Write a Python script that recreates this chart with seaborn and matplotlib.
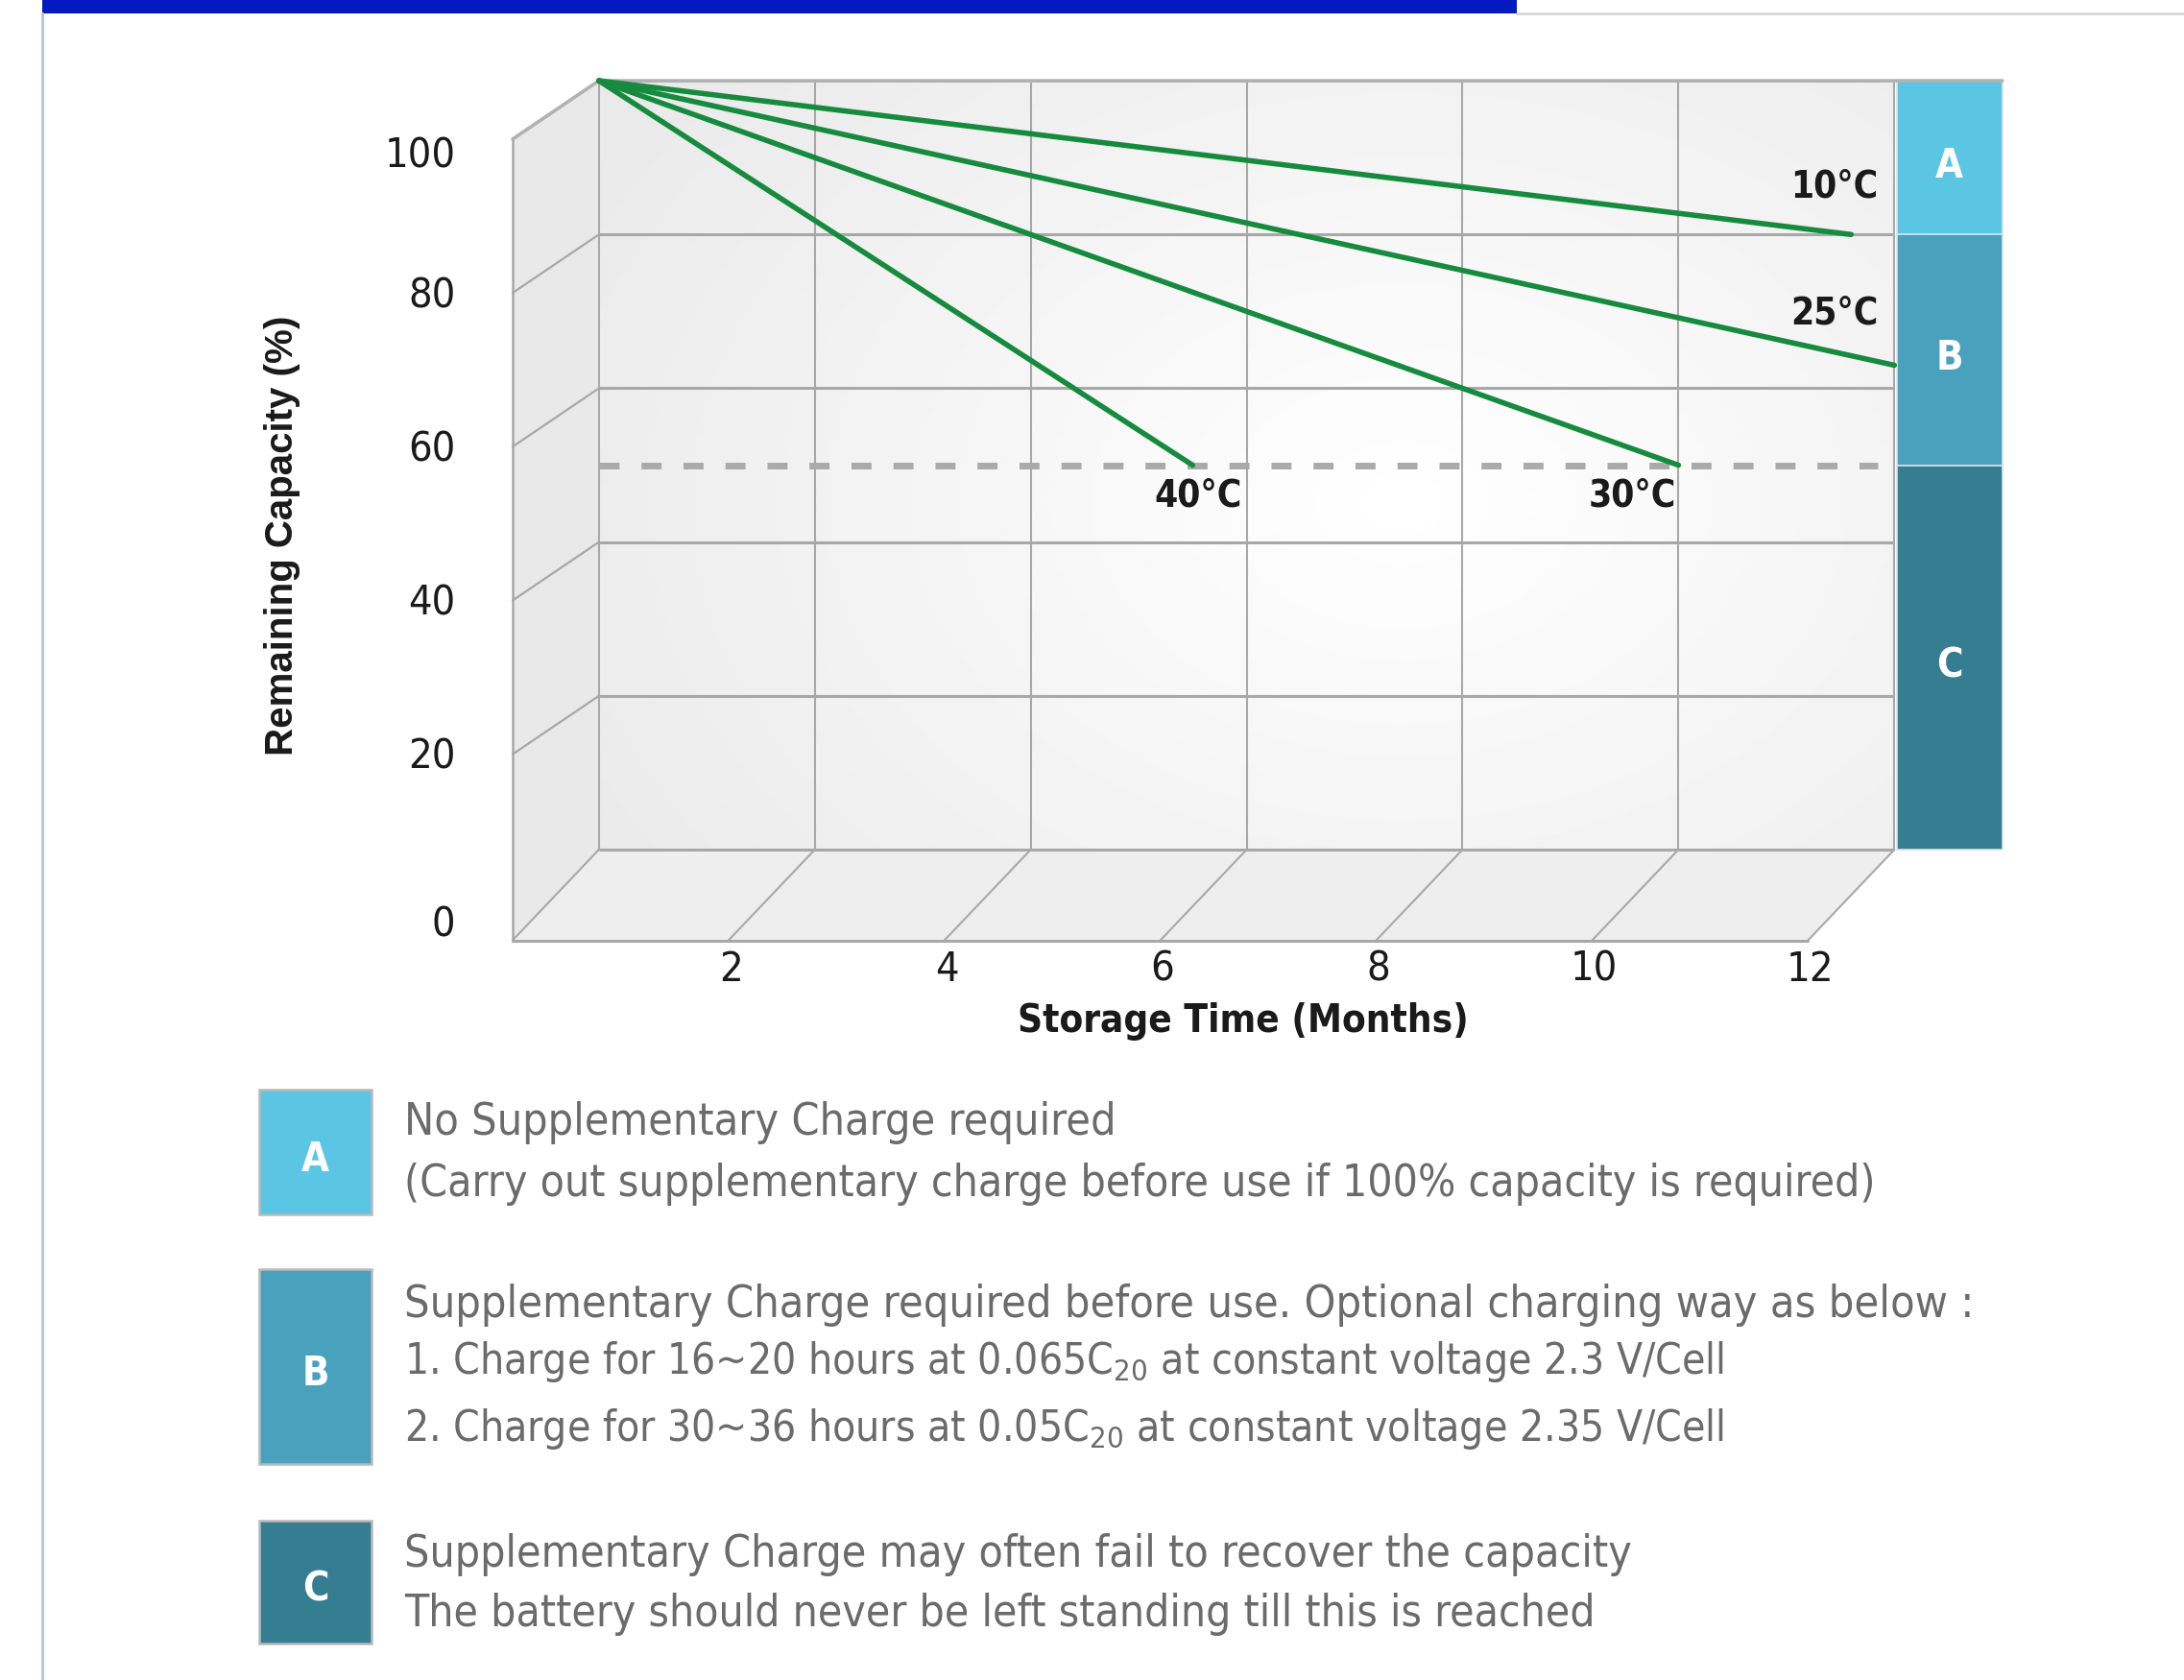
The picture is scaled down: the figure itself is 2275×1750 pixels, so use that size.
import numpy as np
import pandas as pd
import matplotlib
matplotlib.use('Agg')
import matplotlib.pyplot as plt
from matplotlib.patches import Polygon, Rectangle
import seaborn as sns

# ---- data ----
month_ticks = [0, 2, 4, 6, 8, 10, 12]
capacity_ticks = [0, 20, 40, 60, 80, 100]
temps = ['10°C', '25°C', '30°C', '40°C']
start_month = 0
start_capacity = 100
end_month = [11.6, 12.0, 10.0, 5.5]
end_capacity = [80, 63, 50, 50]
limit_capacity = 50          # dashed line
zones = ['A', 'B', 'C']
zone_top = [100, 80, 50]
zone_bottom = [80, 50, 0]
zone_colors = ['#5bc6e3', '#49a2bd', '#357e92']
zone_notes = [
    ['No Supplementary Charge required',
     '(Carry out supplementary charge before use if 100% capacity is required)'],
    ['Supplementary Charge required before use. Optional charging way as below :',
     '1. Charge for 16~20 hours at 0.065C$_{20}$ at constant voltage 2.3 V/Cell',
     '2. Charge for 30~36 hours at 0.05C$_{20}$ at constant voltage 2.35 V/Cell'],
    ['Supplementary Charge may often fail to recover the capacity',
     'The battery should never be left standing till this is reached'],
]

sns.set_theme(style='white')
plt.rcParams['font.family'] = ['DejaVu Sans']
plt.rcParams['font.stretch'] = 'condensed'
plt.rcParams['mathtext.fontset'] = 'dejavusans'
plt.rcParams['mathtext.default'] = 'regular'

GREEN = '#168b3e'
GRID = '#a8a8a8'
DX = -0.8          # depth offset of the fake 3d box, in months
DY_SIDE = -7.6     # depth offset on the side wall, in %
DY_FLOOR = -11.8   # depth offset on the floor, in %

fig = plt.figure(figsize=(22.75, 17.5), dpi=100)
fig.patch.set_facecolor('white')
renderer = fig.canvas.get_renderer()


def fit_width(t, width_px):
    # the reference uses a narrower face: scale the size so the width matches
    w = t.get_window_extent(renderer).width
    t.set_fontsize(t.get_fontsize() * width_px / w)


ax = fig.add_axes([0, 0, 1, 1])

# back wall with soft gradient
gx, gy = np.meshgrid(np.linspace(0, 1, 300), np.linspace(0, 1, 300))
d = np.clip(np.sqrt(((gx - 0.62) / 0.75) ** 2 + ((gy - 0.45) / 0.9) ** 2), 0, 1)
ax.imshow(1 - 0.085 * d, cmap='gray', vmin=0, vmax=1, extent=(0, 12, 0, 100),
          origin='lower', aspect='auto', zorder=0)

# side wall and floor
ax.add_patch(Polygon([(0, 0), (0, 100), (DX, 100 + DY_SIDE), (DX, DY_FLOOR)],
                     closed=True, fc='#e9e9e9', ec='none', zorder=0))
ax.add_patch(Polygon([(0, 0), (12, 0), (12 + DX, DY_FLOOR), (DX, DY_FLOOR)],
                     closed=True, fc='#eeeeee', ec='none', zorder=0))

# grid on back wall
for v in capacity_ticks:
    ax.plot([0, 12], [v, v], color=GRID, lw=2.2, zorder=1, solid_capstyle='butt')
    if v > 0:
        ax.plot([0, DX], [v, v + DY_SIDE], color=GRID, lw=1.6, zorder=1)
for m in month_ticks:
    ax.plot([m, m], [0, 100], color=GRID, lw=1.5, zorder=1)
    ax.plot([m, m + DX], [0, DY_FLOOR], color=GRID, lw=1.5, zorder=1)
# outer edges
ax.plot([DX, DX], [100 + DY_SIDE, DY_FLOOR], color=GRID, lw=1.8, zorder=1)
ax.plot([DX, 12 + DX], [DY_FLOOR, DY_FLOOR], color=GRID, lw=2.2, zorder=1)
ax.plot([DX, 0, 13], [100 + DY_SIDE, 100, 100], color='#b2b2b2', lw=2.6, zorder=3)

# zone bar at right
for z, top, bot, c in zip(zones, zone_top, zone_bottom, zone_colors):
    ax.add_patch(Rectangle((12.02, bot), 0.98, top - bot, fc=c, ec='#d8e4e8', lw=1.2, zorder=2))
    ax.text(12.51, (top + bot) / 2 - 0.5, z, color='white', fontsize=30, fontweight='bold',
            ha='center', va='center_baseline', zorder=3)

# dashed limit line
ax.plot([0, 11.85], [limit_capacity, limit_capacity], color='#aaaaaa', lw=5,
        dashes=(3, 3.3), zorder=2)

# capacity curves
rows = []
for t, em, ec in zip(temps, end_month, end_capacity):
    rows.append({'temp': t, 'month': start_month, 'capacity': start_capacity})
    rows.append({'temp': t, 'month': em, 'capacity': ec})
curves = pd.DataFrame(rows)
sns.lineplot(data=curves, x='month', y='capacity', units='temp', estimator=None,
             color=GREEN, lw=4, ax=ax, zorder=4, legend=False)
ax.set_xlim(-5.548, 14.683)
ax.set_ylim(-108.0, 110.5)
ax.axis('off')

# curve labels
lab_style = dict(fontsize=33, fontweight='bold', color='#1a1a1a', zorder=5)
for t, x, y, ha in zip(temps, [11.85, 11.85, 9.57, 5.55], [86.2, 69.7, 46.0, 46.0],
                       ['right', 'right', 'center', 'center']):
    tt = ax.text(x, y, t, ha=ha, va='center', **lab_style)
    fit_width(tt, 82 * 1.12)

# tick labels
for v in capacity_ticks:
    yl = v - 8.0 - (1.8 if v in (0, 100) else 0)
    tt = ax.text(-1.33, yl, str(v), ha='right', va='center', fontsize=34, color='#1a1a1a')
    fit_width(tt, 21.5 * 1.15 * len(str(v)))
for m in month_ticks[1:]:
    tt = ax.text(m + DX + 0.02, -15.6, str(m), ha='center', va='center', fontsize=34, color='#1a1a1a')
    fit_width(tt, 21.5 * 1.15 * len(str(m)))
tt = ax.text(5.97, -22.3, 'Storage Time (Months)', ha='center', va='center',
             fontsize=34, fontweight='bold', color='#1a1a1a')
fit_width(tt, 444 * 1.06)
ax.text(-2.93, 40.8, 'Remaining Capacity (%)', ha='center', va='center', rotation=90,
        fontsize=29, fontweight='bold', color='#1a1a1a', family=['Liberation Sans', 'DejaVu Sans'])

# ---- overlay in pixel coords: header, frame and legend ----
ov = fig.add_axes([0, 0, 1, 1])
ov.set_xlim(0, 2275)
ov.set_ylim(1750, 0)
ov.axis('off')
ov.patch.set_alpha(0)
ov.add_patch(Rectangle((44, 0), 1536, 14, fc='#0419bf', ec='none'))
ov.plot([1580, 2275], [14, 14], color='#d2d2da', lw=1.8)
ov.plot([44, 44], [14, 1750], color='#c2c6d0', lw=2.2)

box_y = [(1135, 1265), (1322, 1525), (1584, 1712)]
line_y = [[1169, 1233], [1359, 1419, 1489], [1619, 1682]]
line_w = [[744, 1535], [1634, 1374, 1374], [1278, 1242]]
for z, c, (y0, y1), lines, ys, ws in zip(zones, zone_colors, box_y, zone_notes, line_y, line_w):
    ov.add_patch(Rectangle((270, y0), 117, y1 - y0, fc=c, ec='#b9b9b9', lw=1.8))
    ov.text(328.5, (y0 + y1) / 2 + 3, z, color='white', fontsize=30, fontweight='bold',
            ha='center', va='center_baseline')
    for txt, y, w in zip(lines, ys, ws):
        tt = ov.text(421, y, txt, ha='left', va='center', fontsize=37, color='#6b6b6b')
        fit_width(tt, w)

fig.savefig('out.png', dpi=100, facecolor='white')
